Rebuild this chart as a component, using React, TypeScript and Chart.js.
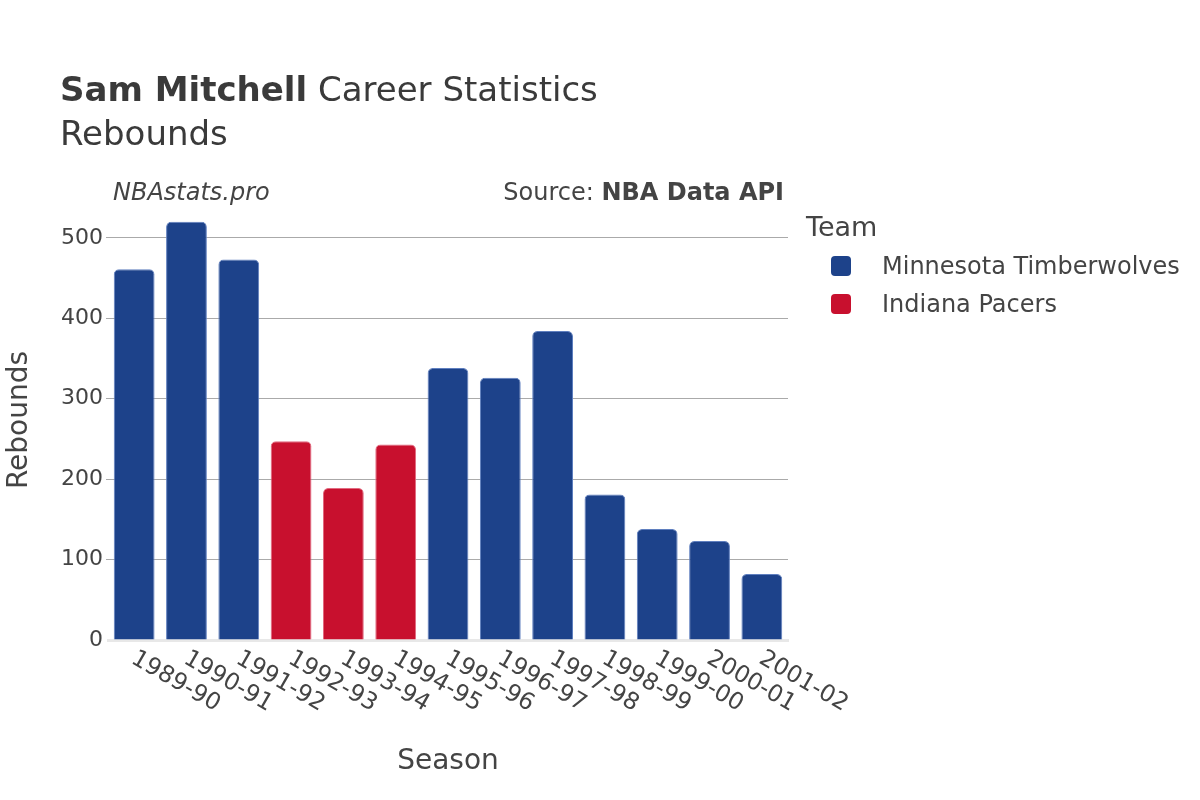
import React, { useEffect, useRef } from "react";
import { Chart, registerables } from "chart.js";

Chart.register(...registerables);

// ---- data ----
const seasons = [
  "1989-90", "1990-91", "1991-92", "1992-93", "1993-94", "1994-95", "1995-96",
  "1996-97", "1997-98", "1998-99", "1999-00", "2000-01", "2001-02",
];
const seasonTeam = ["MIN", "MIN", "MIN", "IND", "IND", "IND", "MIN", "MIN", "MIN", "MIN", "MIN", "MIN", "MIN"];
const rebounds = [461, 520, 473, 247, 189, 243, 338, 326, 384, 181, 138, 123, 82];
const teamCodes = ["MIN", "IND"];
const teamNames = ["Minnesota Timberwolves", "Indiana Pacers"];
const teamColors = ["#1D428A", "#C8102E"];
const teamBorders = ["#5f7fbf", "#e26a80"];
const yTicks = [0, 100, 200, 300, 400, 500];
const yMax = 547;

const FONT = '"DejaVu Sans", sans-serif';
const TEXT = "#444444";

const xLabelsPlugin = {
  id: "rotatedXLabels",
  afterDraw(chart: any) {
    const { ctx } = chart;
    const x = chart.scales.x;
    ctx.save();
    ctx.font = `23.5px ${FONT}`;
    ctx.fillStyle = TEXT;
    ctx.textAlign = "left";
    ctx.textBaseline = "middle";
    (chart.data.labels as string[]).forEach((lab, i) => {
      const px = x.getPixelForValue(i);
      ctx.save();
      ctx.translate(px - 1, x.top + 17);
      ctx.rotate(Math.PI / 6);
      ctx.fillText(lab, 0, 0);
      ctx.restore();
    });
    ctx.restore();
  },
};

function Txt(props: {
  x: number; y: number; size: number; children: React.ReactNode;
  align?: "left" | "right" | "center"; weight?: number; italic?: boolean; color?: string;
}) {
  const { x, y, size, align = "left", weight = 400, italic = false, color = TEXT } = props;
  const tx = align === "left" ? "0" : align === "right" ? "-100%" : "-50%";
  return (
    <div
      style={{
        position: "absolute",
        left: x,
        top: y - 0.846 * size,
        fontFamily: FONT,
        fontSize: size,
        lineHeight: 1,
        fontWeight: weight,
        fontStyle: italic ? "italic" : "normal",
        color,
        whiteSpace: "nowrap",
        transform: `translateX(${tx})`,
      }}
    >
      {props.children}
    </div>
  );
}

export default function App() {
  const ref = useRef<HTMLCanvasElement | null>(null);

  useEffect(() => {
    if (!ref.current) return;
    const datasets = teamCodes.map((code, t) => ({
      label: teamNames[t],
      data: rebounds.map((v, i) => (seasonTeam[i] === code ? v : null)),
      backgroundColor: teamColors[t],
      borderColor: teamBorders[t],
      borderWidth: 1,
      borderSkipped: "start" as const,
      borderRadius: 5,
      barPercentage: 0.78,
      categoryPercentage: 1,
      grouped: false,
    }));
    const chart = new Chart(ref.current, {
      type: "bar",
      data: { labels: seasons, datasets },
      plugins: [xLabelsPlugin],
      options: {
        responsive: false,
        animation: false,
        layout: { padding: { left: 0, right: 412, top: 200, bottom: 0 } },
        plugins: {
          legend: { display: false },
          title: { display: false },
          tooltip: { enabled: false },
        },
        scales: {
          x: {
            ticks: { display: false },
            grid: { display: false },
            border: { display: true, color: "#e8e8e8", width: 3 },
            afterFit: (s: any) => {
              s.height = 160;
            },
          },
          y: {
            min: 0,
            max: yMax,
            afterBuildTicks: (s: any) => {
              s.ticks = yTicks.map((v) => ({ value: v }));
            },
            afterFit: (s: any) => {
              s.width = 108;
            },
            ticks: { font: { family: FONT, size: 22 }, color: TEXT, padding: 3 },
            grid: {
              color: (c: any) => (c.tick && c.tick.value === 0 ? "rgba(0,0,0,0)" : "#aaaaaa"),
              lineWidth: 1,
              tickLength: 2,
              drawTicks: true,
            },
            border: { display: false },
          },
        },
      },
    });
    return () => chart.destroy();
  }, []);

  return (
    <div style={{ position: "absolute", left: 0, top: 0, width: 1200, height: 800, background: "#fff", overflow: "hidden" }}>
      <canvas ref={ref} width={1200} height={800} style={{ position: "absolute", left: 0, top: 0, width: 1200, height: 800 }} />
      <Txt x={60} y={101} size={34} color="#3a3a3a">
        <span style={{ fontWeight: 700 }}>Sam Mitchell</span> Career Statistics
      </Txt>
      <Txt x={60} y={145} size={34} color="#3a3a3a">Rebounds</Txt>
      <Txt x={113} y={200} size={24} italic>NBAstats.pro</Txt>
      <Txt x={784} y={200} size={24} align="right">
        Source: <span style={{ fontWeight: 700 }}>NBA Data API</span>
      </Txt>
      <Txt x={448} y={770} size={28} align="center">Season</Txt>
      <div style={{ position: "absolute", left: 28, top: 420, width: 0, height: 0, transform: "rotate(-90deg)", transformOrigin: "0 0" }}>
        <div
          style={{
            position: "absolute",
            left: 0,
            top: -0.846 * 28,
            fontFamily: FONT,
            fontSize: 28,
            lineHeight: 1,
            color: TEXT,
            whiteSpace: "nowrap",
            transform: "translateX(-50%)",
          }}
        >
          Rebounds
        </div>
      </div>
      <Txt x={806} y={236} size={27}>Team</Txt>
      {teamNames.map((n, i) => (
        <React.Fragment key={n}>
          <div
            style={{
              position: "absolute",
              left: 831,
              top: 256 + i * 38,
              width: 20,
              height: 20,
              borderRadius: 4,
              background: teamColors[i],
            }}
          />
          <Txt x={882} y={274 + i * 38} size={24}>{n}</Txt>
        </React.Fragment>
      ))}
    </div>
  );
}
